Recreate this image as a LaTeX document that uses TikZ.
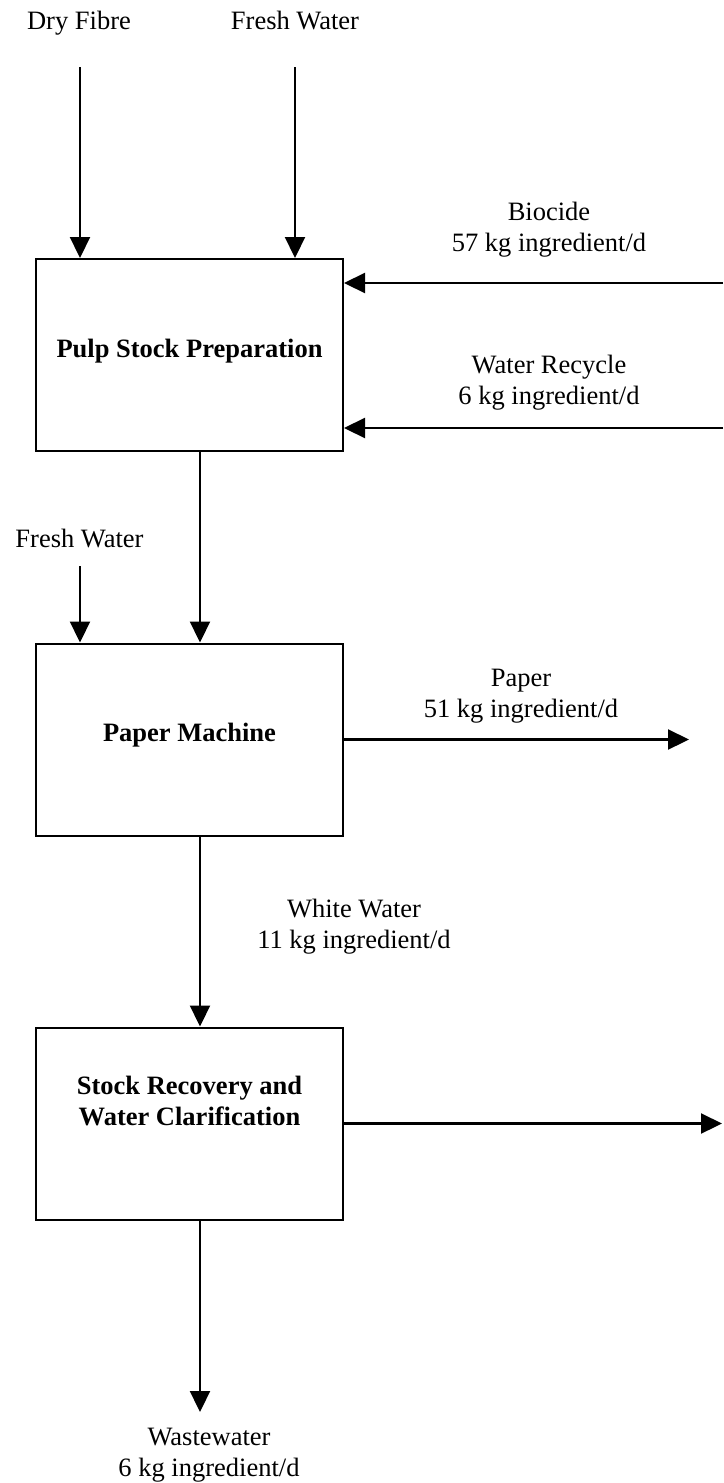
\documentclass[tikz,border=0pt]{standalone}
\usepackage{fontspec}
\setmainfont{Liberation Serif}
\usetikzlibrary{arrows.meta}
\begin{document}
\begin{tikzpicture}[x=1pt,y=-1pt,
  lbl/.style={font=\fontsize{26.5}{31}\selectfont, inner sep=0pt, align=center, anchor=base},
  btxt/.style={lbl, font=\fontsize{26.5}{31}\selectfont\bfseries},
  box/.style={draw, line width=2pt, minimum width=307pt, minimum height=192pt, inner sep=0pt},
  arr/.style={line width=2.2pt, -{Triangle[length=21pt,width=20pt]}}]
\useasboundingbox (0,0) rectangle (723,1483);
% boxes
\node[box] (pulp) at (189.5,355) {};
\node[box] (paper) at (189.5,739.5) {};
\node[box] (stock) at (189.5,1123.5) {};
\node[btxt] (pulpt) at (189.5,357) {Pulp Stock Preparation};
\node[btxt] (papert) at (189.5,741) {Paper Machine};
\node[btxt] (stockt) at (189.5,1125) {Stock Recovery and\\Water Clarification};
% labels (anchor base = last line baseline)
\node[lbl] (df) at (79,29) {Dry Fibre};
\node[lbl] (fw1) at (295,29) {Fresh Water};
\node[lbl] (biol) at (549,251) {Biocide\\57 kg ingredient/d};
\node[lbl] (wrl) at (549,404) {Water Recycle\\6 kg ingredient/d};
\node[lbl] (fw2l) at (79.5,547) {Fresh Water};
\node[lbl] (papl) at (521,717) {Paper\\51 kg ingredient/d};
\node[lbl] (wwl) at (354,948) {White Water\\11 kg ingredient/d};
\node[lbl] (wastel) at (209,1476) {Wastewater\\6 kg ingredient/d};
% free ends
\coordinate (df0) at (80,67);
\coordinate (fw0) at (295,67);
\coordinate (bio) at (723,283);
\coordinate (wr) at (723,428);
\coordinate (fw2) at (80,566);
\coordinate (pout) at (689,739.5);
\coordinate (sout) at (722,1123.5);
\coordinate (wout) at (200,1412);
% connectors
\draw[arr] (df0) -- (df0 |- pulp.north);
\draw[arr] (fw0) -- (fw0 |- pulp.north);
\draw[arr] (bio) -- (bio -| pulp.east);
\draw[arr] (wr) -- (wr -| pulp.east);
\draw[arr] ([xshift=10.5pt]pulp.south) -- ([xshift=10.5pt]paper.north);
\draw[arr] (fw2) -- (fw2 |- paper.north);
\draw[arr] (paper.east) -- (pout);
\draw[arr] ([xshift=10.5pt]paper.south) -- ([xshift=10.5pt]stock.north);
\draw[arr] (stock.east) -- (sout);
\draw[arr] ([xshift=10.5pt]stock.south) -- (wout);
\end{tikzpicture}
\end{document}
